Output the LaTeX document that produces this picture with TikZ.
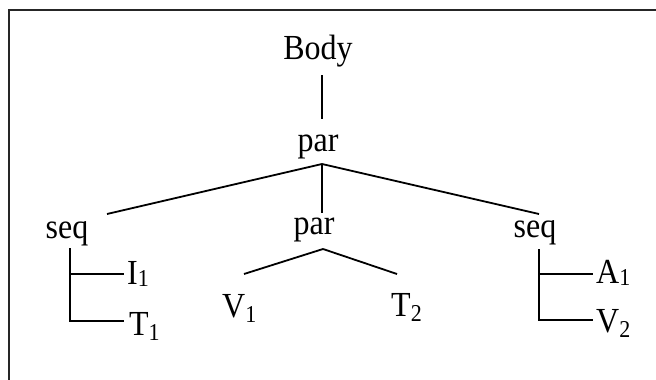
\documentclass[tikz,border=0pt]{standalone}
\usepackage{fontspec}
\setmainfont{Liberation Serif}
\newcommand{\sbs}[2][5pt]{\raisebox{-#1}{\fontsize{22}{22}\selectfont #2}}
\newcommand{\tx}[1]{\scalebox{1}[1.1]{#1}}
\begin{document}
\begin{tikzpicture}[x=1pt,y=-1pt,
  lbl/.style={inner sep=0pt, font=\fontsize{32}{38}\selectfont},
  edge/.style={line width=1.8pt},
  frame/.style={line width=1.2pt, black!85}]
\useasboundingbox (0,0) rectangle (656,380);
% frame
\coordinate (f1) at (9,380);
\coordinate (f2) at (9,10);
\coordinate (f3) at (656,10);
\draw[frame] (f1) -- (f2) -- (f3);
% labels
\node[lbl, anchor=base] (body) at (318,59) {\tx{Body}};
\node[lbl, anchor=base] (par1) at (318,151) {\tx{par}};
\node[lbl, anchor=base] (seqL) at (67,238) {\tx{seq}};
\node[lbl, anchor=base] (par2) at (314,234) {\tx{par}};
\node[lbl, anchor=base] (seqR) at (535,237) {\tx{seq}};
\node[lbl, anchor=base west] (i1) at (127,284) {\tx{I\sbs[2pt]{1}}};
\node[lbl, anchor=base west] (t1) at (129,335) {\tx{T\sbs{1}}};
\node[lbl, anchor=base west] (v1) at (222,317) {\tx{V\sbs{1}}};
\node[lbl, anchor=base west] (t2) at (391,316) {\tx{T\sbs{2}}};
\node[lbl, anchor=base west] (a1) at (596,283) {\tx{A\sbs[2pt]{1}}};
\node[lbl, anchor=base west] (v2) at (596,332) {\tx{V\sbs{2}}};
% connector points
\coordinate (b0) at (322,75);
\coordinate (b1) at (322,119);
\coordinate (j1) at (322,164);
\coordinate (eL) at (107,214);
\coordinate (eM) at (322,213);
\coordinate (eR) at (539,214);
\coordinate (lT) at (70,248);
\coordinate (lB) at (70,321);
\coordinate (lM) at (70,274);
\coordinate (li) at (124,274);
\coordinate (lt) at (124,321);
\coordinate (j2) at (323,249);
\coordinate (mv) at (244,274);
\coordinate (mt) at (397,274);
\coordinate (rT) at (539,249);
\coordinate (rB) at (539,320);
\coordinate (rM) at (539,274);
\coordinate (ra) at (593,274);
\coordinate (rv) at (593,320);
% connectors
\draw[edge] (b0) -- (b1);
\draw[edge] (j1) -- (eL);
\draw[edge] (j1) -- (eM);
\draw[edge] (j1) -- (eR);
\draw[edge] (lT) -- (lB) -- (lt);
\draw[edge] (lM) -- (li);
\draw[edge] (j2) -- (mv);
\draw[edge] (j2) -- (mt);
\draw[edge] (rT) -- (rB) -- (rv);
\draw[edge] (rM) -- (ra);
\end{tikzpicture}
\end{document}
